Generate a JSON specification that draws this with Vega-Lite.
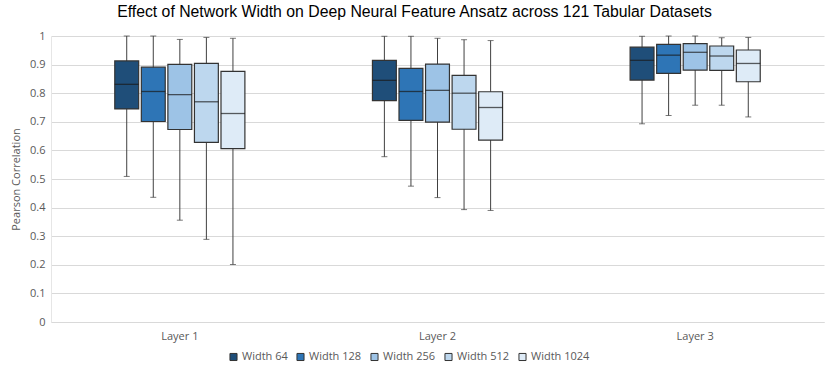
{
  "$schema": "https://vega.github.io/schema/vega-lite/v6.json",
  "width": 773,
  "height": 286,
  "autosize": {"type": "none"},
  "padding": {"left": 51, "top": 36, "right": 6, "bottom": 57},
  "background": "white",
  "title": {
    "text": "Effect of Network Width on Deep Neural Feature Ansatz across 121 Tabular Datasets",
    "font": "Liberation Sans",
    "fontSize": 15.8,
    "fontWeight": "normal",
    "color": "#000000",
    "anchor": "middle",
    "dx": -23,
    "offset": 9
  },
  "config": {
    "view": {"stroke": null},
    "axis": {"labelFont": "Open Sans", "titleFont": "Open Sans", "labelColor": "#595959", "titleColor": "#595959", "labelFontSize": 11, "titleFontSize": 11, "titleFontWeight": "normal"},
    "legend": {"labelFont": "Open Sans", "labelColor": "#595959", "labelFontSize": 11}
  },
  "data": {
    "values": [
      {"layer": "Layer 1", "width": "Width 64", "min": 0.509, "q1": 0.745, "median": 0.831, "q3": 0.913, "max": 1.0},
      {"layer": "Layer 1", "width": "Width 128", "min": 0.436, "q1": 0.701, "median": 0.806, "q3": 0.891, "max": 1.0},
      {"layer": "Layer 1", "width": "Width 256", "min": 0.356, "q1": 0.673, "median": 0.795, "q3": 0.901, "max": 0.988},
      {"layer": "Layer 1", "width": "Width 512", "min": 0.289, "q1": 0.628, "median": 0.77, "q3": 0.904, "max": 0.995},
      {"layer": "Layer 1", "width": "Width 1024", "min": 0.201, "q1": 0.606, "median": 0.729, "q3": 0.876, "max": 0.992},
      {"layer": "Layer 2", "width": "Width 64", "min": 0.578, "q1": 0.774, "median": 0.845, "q3": 0.915, "max": 0.999},
      {"layer": "Layer 2", "width": "Width 128", "min": 0.475, "q1": 0.705, "median": 0.806, "q3": 0.887, "max": 0.999},
      {"layer": "Layer 2", "width": "Width 256", "min": 0.435, "q1": 0.699, "median": 0.81, "q3": 0.902, "max": 0.992},
      {"layer": "Layer 2", "width": "Width 512", "min": 0.393, "q1": 0.674, "median": 0.8, "q3": 0.862, "max": 0.987},
      {"layer": "Layer 2", "width": "Width 1024", "min": 0.39, "q1": 0.636, "median": 0.75, "q3": 0.805, "max": 0.984},
      {"layer": "Layer 3", "width": "Width 64", "min": 0.693, "q1": 0.846, "median": 0.915, "q3": 0.961, "max": 0.999},
      {"layer": "Layer 3", "width": "Width 128", "min": 0.722, "q1": 0.869, "median": 0.933, "q3": 0.971, "max": 1.0},
      {"layer": "Layer 3", "width": "Width 256", "min": 0.758, "q1": 0.881, "median": 0.943, "q3": 0.973, "max": 1.0},
      {"layer": "Layer 3", "width": "Width 512", "min": 0.758, "q1": 0.88, "median": 0.93, "q3": 0.965, "max": 0.994},
      {"layer": "Layer 3", "width": "Width 1024", "min": 0.717, "q1": 0.84, "median": 0.904, "q3": 0.951, "max": 0.995}
    ]
  },
  "encoding": {
    "x": {
      "field": "layer", "type": "nominal",
      "scale": {"paddingInner": 0.495, "paddingOuter": 0.2475},
      "axis": {"title": null, "labelAngle": 0, "domainColor": "#d9d9d9", "ticks": false, "labelPadding": 8}
    },
    "xOffset": {
      "field": "width", "type": "nominal",
      "sort": ["Width 64", "Width 128", "Width 256", "Width 512", "Width 1024"],
      "scale": {"paddingInner": 0.1}
    }
  },
  "layer": [
    {
      "mark": {"type": "rule", "color": "#404040", "strokeWidth": 1},
      "encoding": {
        "y": {
          "field": "min", "type": "quantitative",
          "scale": {"domain": [0, 1], "nice": false},
          "axis": {"title": "Pearson Correlation", "values": [0, 0.1, 0.2, 0.3, 0.4, 0.5, 0.6, 0.7, 0.8, 0.9, 1], "format": ".1~f", "gridColor": "#d9d9d9", "domainColor": "#e6e6e6", "ticks": false, "labelPadding": 6, "titlePadding": 8}
        },
        "y2": {"field": "max"}
      }
    },
    {
      "mark": {"type": "tick", "color": "#404040", "size": 6, "thickness": 1},
      "encoding": {"y": {"field": "min", "type": "quantitative", "axis": {"title": "Pearson Correlation", "values": [0, 0.1, 0.2, 0.3, 0.4, 0.5, 0.6, 0.7, 0.8, 0.9, 1], "format": ".1~f", "gridColor": "#d9d9d9", "domainColor": "#e6e6e6", "ticks": false, "labelPadding": 6, "titlePadding": 8}}}
    },
    {
      "mark": {"type": "tick", "color": "#404040", "size": 6, "thickness": 1},
      "encoding": {"y": {"field": "max", "type": "quantitative", "axis": {"title": "Pearson Correlation", "values": [0, 0.1, 0.2, 0.3, 0.4, 0.5, 0.6, 0.7, 0.8, 0.9, 1], "format": ".1~f", "gridColor": "#d9d9d9", "domainColor": "#e6e6e6", "ticks": false, "labelPadding": 6, "titlePadding": 8}}}
    },
    {
      "mark": {"type": "bar", "stroke": "#333333", "strokeWidth": 1.2},
      "encoding": {
        "y": {"field": "q1", "type": "quantitative", "axis": {"title": "Pearson Correlation", "values": [0, 0.1, 0.2, 0.3, 0.4, 0.5, 0.6, 0.7, 0.8, 0.9, 1], "format": ".1~f", "gridColor": "#d9d9d9", "domainColor": "#e6e6e6", "ticks": false, "labelPadding": 6, "titlePadding": 8}},
        "y2": {"field": "q3"},
        "color": {
          "field": "width", "type": "nominal",
          "sort": ["Width 64", "Width 128", "Width 256", "Width 512", "Width 1024"],
          "scale": {"domain": ["Width 64", "Width 128", "Width 256", "Width 512", "Width 1024"], "range": ["#1f4e79", "#2e75b6", "#9dc3e6", "#bdd7ee", "#deebf7"]},
          "legend": {
            "title": null, "orient": "none", "direction": "horizontal",
            "legendX": 177, "legendY": 315,
            "symbolType": "square", "symbolSize": 50, "symbolStrokeColor": "#333333", "symbolStrokeWidth": 1,
            "columnPadding": 6, "labelOffset": 3
          }
        }
      }
    },
    {
      "mark": {"type": "tick", "color": "#1a1a1a", "thickness": 1.3, "size": 24},
      "encoding": {"y": {"field": "median", "type": "quantitative", "axis": {"title": "Pearson Correlation", "values": [0, 0.1, 0.2, 0.3, 0.4, 0.5, 0.6, 0.7, 0.8, 0.9, 1], "format": ".1~f", "gridColor": "#d9d9d9", "domainColor": "#e6e6e6", "ticks": false, "labelPadding": 6, "titlePadding": 8}}}
    }
  ]
}
